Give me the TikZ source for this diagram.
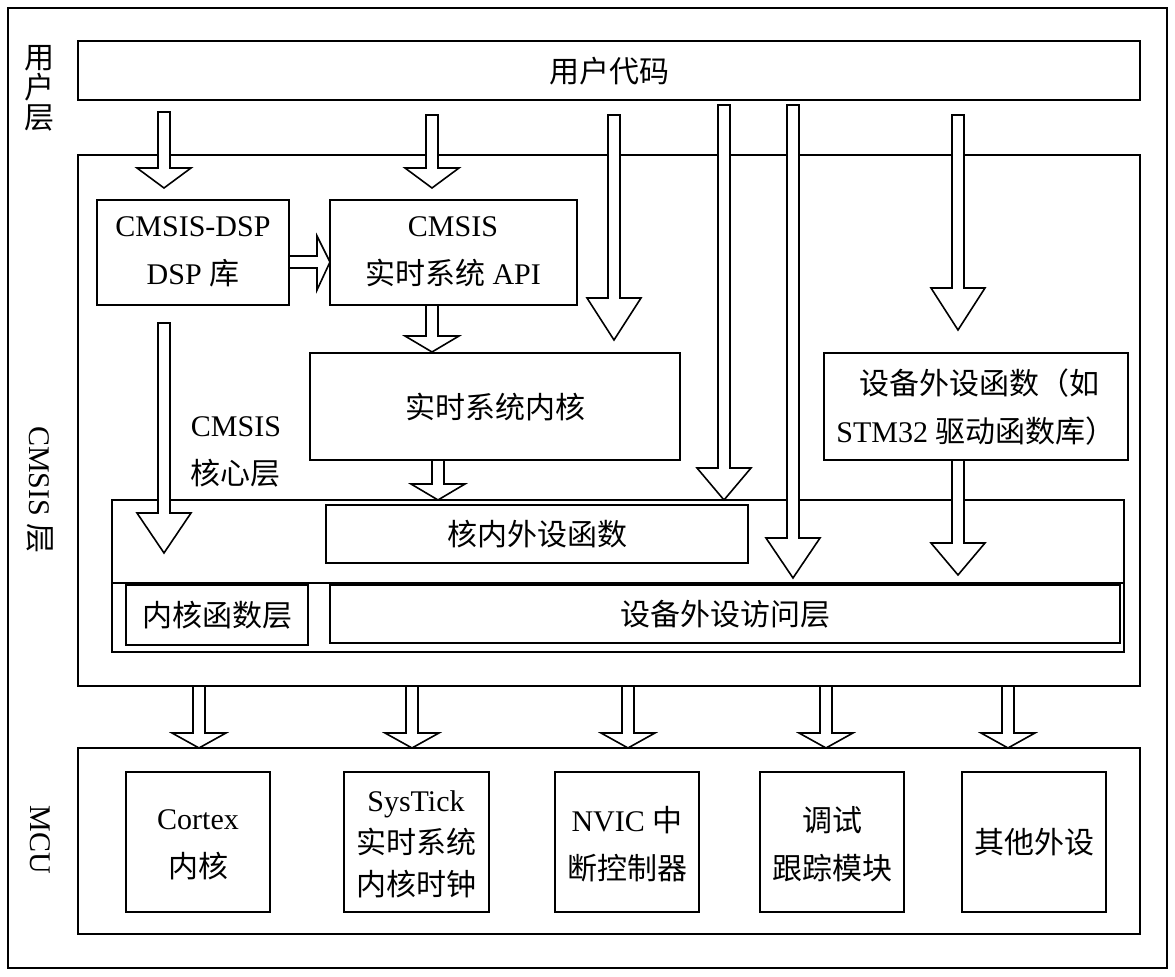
\documentclass[tikz,border=0pt]{standalone}
\usepackage{fontspec}
\setmainfont{Liberation Serif}
\newfontfamily\cjk{Noto Sans CJK SC}
\usetikzlibrary{calc}
% hollow block arrow: x, top y, head length, tip y
\newcommand\vblock[4]{%
  \draw[blk] (#1-6,#2) -- (#1-6,#4-#3) -- (#1-27,#4-#3) -- (#1,#4)
    -- (#1+27,#4-#3) -- (#1+6,#4-#3) -- (#1+6,#2) -- cycle;}

\begin{document}
\begin{tikzpicture}[
        x=0.5pt, y=-0.5pt,
        blk/.style={draw, thick, fill=white, line join=miter},
        every node/.style={font=\fontsize{15}{18}\selectfont, align=center},
    ]
    \useasboundingbox (0,0) rectangle (1175,977);
    \draw[thick] (8,8) rectangle (1167,968);

    % layer labels
    \node (luser) at (40,88) {{\cjk 用}\\[-3pt]{\cjk 户}\\[-3pt]{\cjk 层}};
    \node[rotate=-90] (lcmsis) at (40,490) {CMSIS {\cjk 层}};
    \node[rotate=-90] (lmcu) at (40,840) {MCU};

    % user layer
    \draw[thick] (78,41) rectangle (1140,100);
    \node (user) at (609,71) {\cjk 用户代码};

    % CMSIS layer
    \draw[thick] (78,155) rectangle (1140,686);
    \draw[thick] (97,200) rectangle (289,305);
    \node (dsp) at (193,252) {CMSIS-DSP\\[6pt]DSP {\cjk 库}};
    \draw[thick] (330,200) rectangle (577,305);
    \node (rtos) at (453,252) {CMSIS\\[6pt]{\cjk 实时系统} API};
    \draw[thick] (310,353) rectangle (680,460);
    \node (kernel) at (495,407) {\cjk 实时系统内核};
    \draw[thick] (824,353) rectangle (1128,460);
    \node (devfn) at (976,407) {\ {\cjk 设备外设函数（如}\\[6pt]STM32 {\cjk 驱动函数库）}};
    \node[align=left] (core) at (236,452) {CMSIS\\[6pt]{\cjk 核心层}};

    \draw[thick] (112,500) rectangle (1124,652);
    \draw[thick] (112,583) -- (1124,583);
    \draw[thick] (326,505) rectangle (748,563);
    \node (perif) at (537,534) {\cjk 核内外设函数};
    \draw[thick] (126,585) rectangle (308,645);
    \node (corefn) at (217,615) {\cjk 内核函数层};
    \draw[thick] (330,585) rectangle (1120,643);
    \node (access) at (725,614) {\cjk 设备外设访问层};

    % arrows inside CMSIS layer
    \vblock{164}{112}{20}{188}
    \vblock{432}{115}{20}{188}
    \vblock{614}{115}{42}{340}
    \vblock{724}{105}{32}{500}
    \vblock{793}{105}{40}{578}
    \vblock{958}{115}{42}{330}
    \vblock{164}{323}{40}{553}
    \vblock{432}{305}{16}{352}
    \vblock{438}{460}{16}{500}
    \vblock{958}{460}{32}{575}
    \draw[blk] (289,256) -- (317,256) -- (317,236) -- (330,262) -- (317,290)
        -- (317,268) -- (289,268) -- cycle;

    % MCU
    \draw[thick] (78,748) rectangle (1140,934);
    \foreach \x in {199,412,628,826,1008} {\vblock{\x}{686}{15}{748}}
    \draw[thick] (126,772) rectangle (270,912);
    \node (cortex) at (198,845) {Cortex\\[6pt]{\cjk 内核}};
    \draw[thick] (344,772) rectangle (489,912);
    \node (systick) at (416,844) {SysTick\\[3pt]{\cjk 实时系统}\\[3pt]{\cjk 内核时钟}};
    \draw[thick] (555,772) rectangle (699,912);
    \node (nvic) at (627,844) {NVIC {\cjk 中}\\[6pt]{\cjk 断控制器}};
    \draw[thick] (760,772) rectangle (904,912);
    \node (debug) at (832,844) {{\cjk 调试}\\[6pt]{\cjk 跟踪模块}};
    \draw[thick] (962,772) rectangle (1106,912);
    \node (other) at (1034,842) {\cjk 其他外设};
\end{tikzpicture}
\end{document}
